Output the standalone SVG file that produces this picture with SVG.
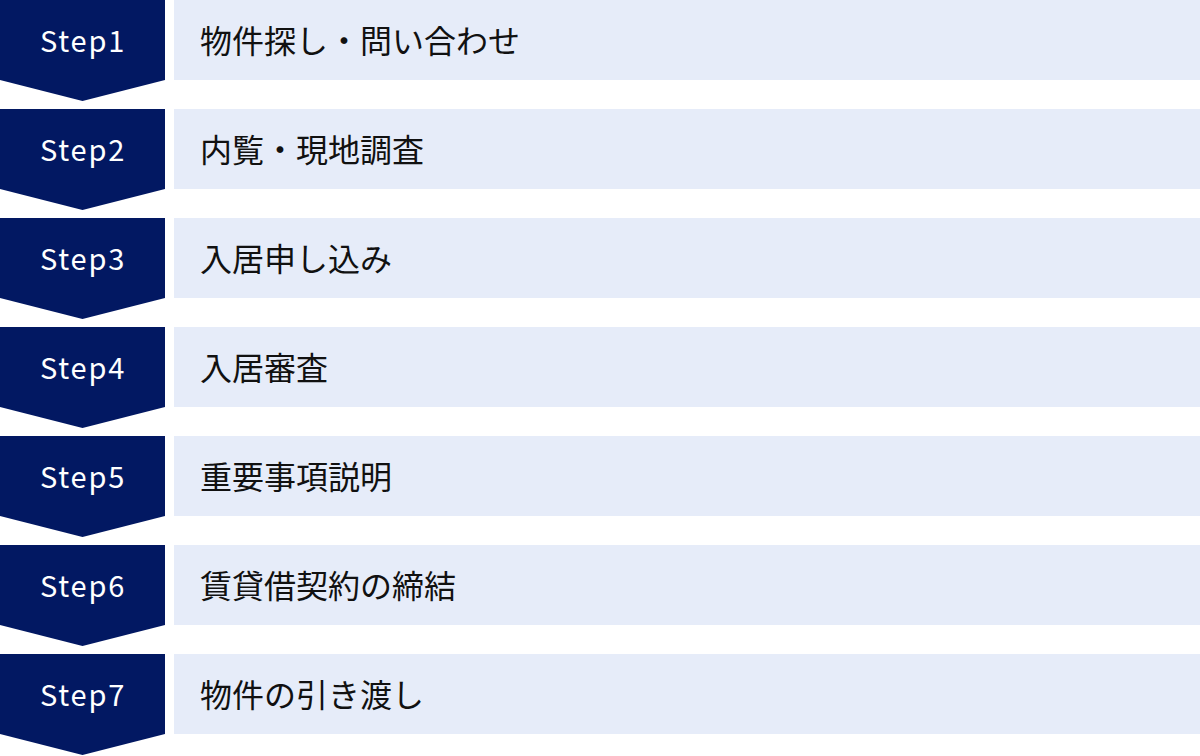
<svg xmlns="http://www.w3.org/2000/svg" width="1200" height="756" viewBox="0 0 1200 756">
<style>
.chev{fill:#021862}
.bar{fill:#e6ecf9}
.st{font-family:"Noto Sans CJK JP","Noto Sans",sans-serif;font-size:29px;font-weight:400;fill:#ffffff;text-anchor:middle;letter-spacing:1.8px}
.lb{font-family:"Noto Sans CJK JP","Noto Sans",sans-serif;font-size:32px;fill:#111111}
</style>
<defs>
<polygon id="chevron" points="0,0 165,0 165,80 82.5,101 0,80"/>
</defs>
<rect width="1200" height="756" fill="#ffffff"/>
<g id="step1" transform="translate(0,0)">
<use href="#chevron" class="chev"/><rect class="bar" x="174" y="0" width="1026" height="80"/>
<text class="st" x="83" y="52">Step1</text><text class="lb" x="200" y="53">物件探し・問い合わせ</text>
</g>
<g id="step2" transform="translate(0,109)">
<use href="#chevron" class="chev"/><rect class="bar" x="174" y="0" width="1026" height="80"/>
<text class="st" x="83" y="52">Step2</text><text class="lb" x="200" y="53">内覧・現地調査</text>
</g>
<g id="step3" transform="translate(0,218)">
<use href="#chevron" class="chev"/><rect class="bar" x="174" y="0" width="1026" height="80"/>
<text class="st" x="83" y="52">Step3</text><text class="lb" x="200" y="53">入居申し込み</text>
</g>
<g id="step4" transform="translate(0,327)">
<use href="#chevron" class="chev"/><rect class="bar" x="174" y="0" width="1026" height="80"/>
<text class="st" x="83" y="52">Step4</text><text class="lb" x="200" y="53">入居審査</text>
</g>
<g id="step5" transform="translate(0,436)">
<use href="#chevron" class="chev"/><rect class="bar" x="174" y="0" width="1026" height="80"/>
<text class="st" x="83" y="52">Step5</text><text class="lb" x="200" y="53">重要事項説明</text>
</g>
<g id="step6" transform="translate(0,545)">
<use href="#chevron" class="chev"/><rect class="bar" x="174" y="0" width="1026" height="80"/>
<text class="st" x="83" y="52">Step6</text><text class="lb" x="200" y="53">賃貸借契約の締結</text>
</g>
<g id="step7" transform="translate(0,654)">
<use href="#chevron" class="chev"/><rect class="bar" x="174" y="0" width="1026" height="80"/>
<text class="st" x="83" y="52">Step7</text><text class="lb" x="200" y="53">物件の引き渡し</text>
</g>
<g id="connectors"></g>
</svg>
